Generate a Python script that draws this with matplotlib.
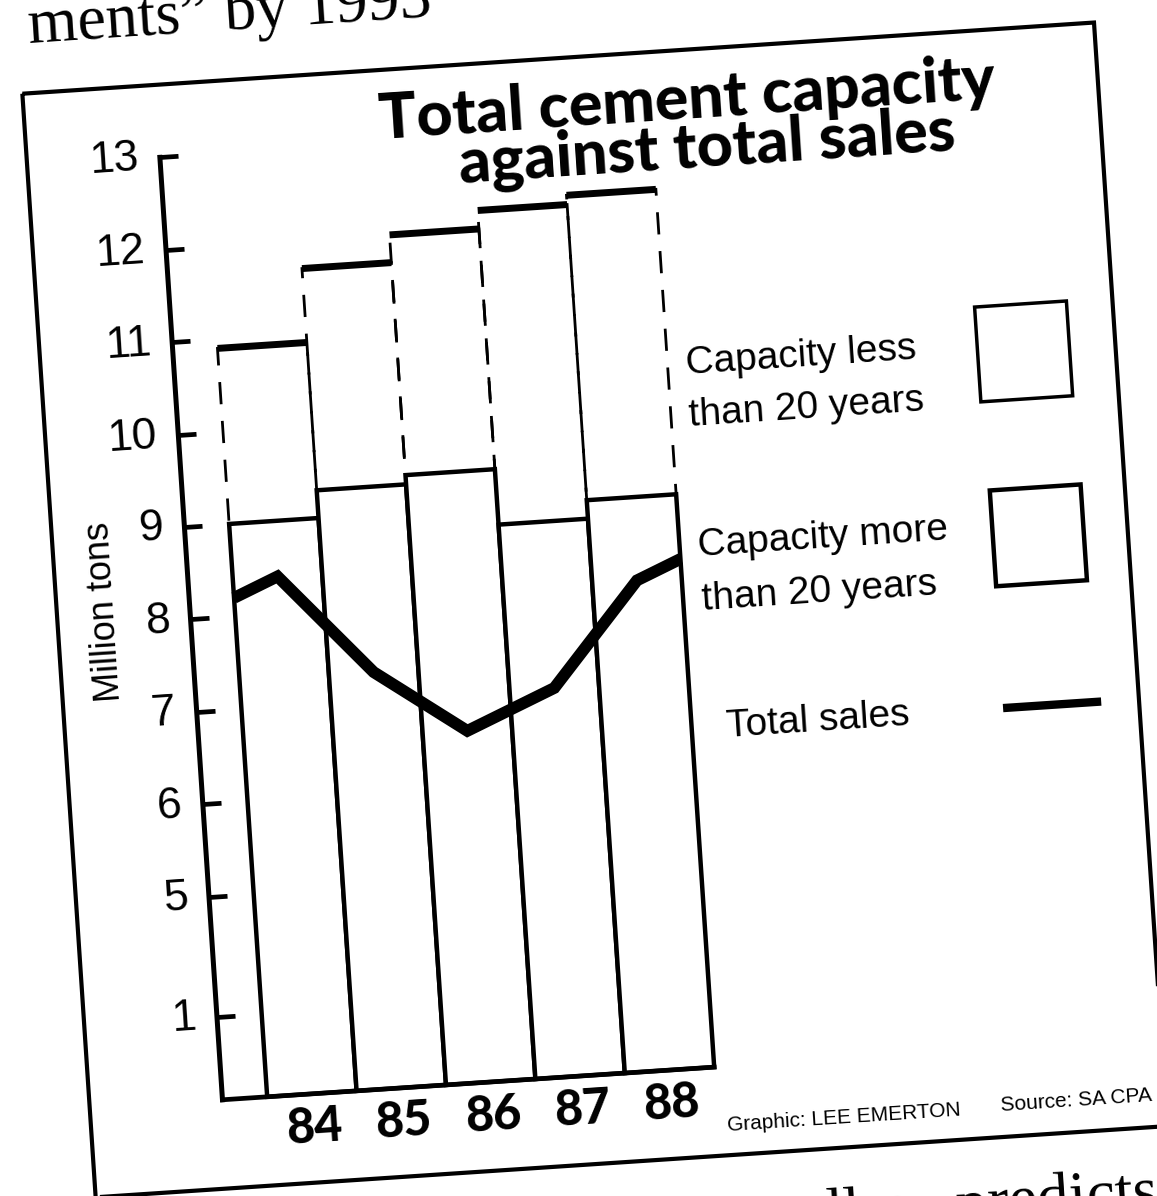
import matplotlib
matplotlib.use("Agg")
import matplotlib.pyplot as plt
from matplotlib.patches import Rectangle
from matplotlib.transforms import Affine2D
from mpl_toolkits.axisartist import floating_axes
from mpl_toolkits.axisartist.grid_finder import FixedLocator, DictFormatter

# Cement capacity split by plant age, against total sales (million tons)
years = [84, 85, 86, 87, 88]
year_labels = ["84", "85", "86", "87", "88"]
capacity_old = [9.0, 9.3, 9.4, 8.8, 9.0]   # capacity more than 20 years
capacity_new = [1.9, 2.4, 2.6, 3.4, 3.3]   # capacity less than 20 years
sales_x = [83.5, 84, 85, 86, 87, 88, 88.5]
sales = [8.2, 8.4, 7.3, 6.6, 7.0, 8.1, 8.3]
ytick_values = [1, 5, 6, 7, 8, 9, 10, 11, 12, 13]

AXIS_FLOOR = 2.8   # bottom of the value axis
BREAK_AT = 3.7     # where the "1" tick sits on the broken scale
TILT = 3.8         # the whole page is printed slightly askew

W, H = 1157, 1196
CX, CY = 578, H - 598

SANS = ["Liberation Sans Narrow", "Liberation Sans", "DejaVu Sans"]
HEAVY = ["Lato", "DejaVu Sans"]
SERIF = ["Liberation Serif", "DejaVu Serif"]

fig = plt.figure(figsize=(W / 100, H / 100), dpi=100)
fig.patch.set_facecolor("white")

# chart units -> display pixels, tilted with the page
chart_tf = (Affine2D().translate(-83, -13).scale(89.6, 92.6)
            .translate(190, H - 130.6).rotate_deg_around(CX, CY, TILT))

ytick_pos = [BREAK_AT if v == 1 else v for v in ytick_values]
helper = floating_axes.GridHelperCurveLinear(
    chart_tf, extremes=(83, 88.5, AXIS_FLOOR, 13),
    grid_locator1=FixedLocator(years),
    tick_formatter1=DictFormatter(dict(zip(years, year_labels))),
    grid_locator2=FixedLocator(ytick_pos),
    tick_formatter2=DictFormatter({p: str(v) for p, v in zip(ytick_pos, ytick_values)}))

corners = chart_tf.transform([(83, AXIS_FLOOR), (88.5, AXIS_FLOOR), (88.5, 13), (83, 13)])
(x0, y0), (x1, y1) = corners.min(axis=0), corners.max(axis=0)
# FloatingAxes pads its limits by 2 %, pad the rect the same way so that
# one data unit of the host stays one pixel
mx, my = (x1 - x0) * 0.01, (y1 - y0) * 0.01
rect = [(x0 - mx) / W, (y0 - my) / H, (x1 - x0 + 2 * mx) / W, (y1 - y0 + 2 * my) / H]
ax = fig.add_axes(rect, axes_class=floating_axes.FloatingAxes, grid_helper=helper)
aux = ax.get_aux_axes(chart_tf)

for side in ("top", "right"):
    ax.axis[side].set_visible(False)

left = ax.axis["left"]
left.line.set_linewidth(3.6)
left.major_ticks.set_ticksize(13)
left.major_ticks.set_markeredgewidth(3.4)
left.major_ticklabels.set(fontsize=32, fontfamily=SANS)
left.major_ticklabels.set_pad(15)

bottom = ax.axis["bottom"]
bottom.line.set_linewidth(3.4)
bottom.major_ticks.set_visible(False)
bottom.major_ticklabels.set(fontsize=35, fontfamily=HEAVY, fontweight="black")
bottom.major_ticklabels.set_pad(9)

# stacked capacity bars: old plant solid, newer plant dashed on top
old_h = [c - AXIS_FLOOR for c in capacity_old]
aux.bar(years, old_h, bottom=AXIS_FLOOR, width=1.0, facecolor="white",
        edgecolor="black", linewidth=3.2)
aux.bar(years, capacity_new, bottom=capacity_old, width=1.0, facecolor="none",
        edgecolor="black", linewidth=2, linestyle=(0, (8, 6)))
totals = [o + n for o, n in zip(capacity_old, capacity_new)]
aux.hlines(totals, [y - 0.5 for y in years], [y + 0.5 for y in years],
           colors="black", linewidth=5)

aux.plot(sales_x, sales, color="black", linewidth=8.5,
         solid_joinstyle="miter", solid_capstyle="butt")

# everything else is laid out in page pixels (y down) and tilted the same way
page_tf = (Affine2D().scale(1, -1).translate(0, H)
           .rotate_deg_around(CX, CY, TILT) + ax.transData)


def page_text(x, y, s, **kw):
    kw.setdefault("rotation", TILT)
    ax.text(x, y, s, transform=page_tf, rotation_mode="anchor",
            clip_on=False, **kw)


ax.add_patch(Rectangle((57, 58), 1074, 1106, transform=page_tf, fill=False,
                       edgecolor="black", linewidth=3, clip_on=False))

page_text(720, 127, "Total cement capacity", ha="center", va="baseline",
          fontsize=45, fontfamily=HEAVY, fontweight="black")
page_text(737, 176, "against total sales", ha="center", va="baseline",
          fontsize=45, fontfamily=HEAVY, fontweight="black")

page_text(105, 580, "Million tons", rotation=90 + TILT, ha="center",
          va="center", fontsize=26, fontfamily=SANS)

# legend
legend_kw = dict(ha="left", va="baseline", fontsize=28, fontfamily=SANS)
page_text(701, 382, "Capacity less", **legend_kw)
page_text(701, 434, "than 20 years", **legend_kw)
page_text(701, 564, "Capacity more", **legend_kw)
page_text(701, 618, "than 20 years", **legend_kw)
page_text(717, 747, "Total sales", **legend_kw)
ax.add_patch(Rectangle((993, 334), 92, 95, transform=page_tf, facecolor="white",
                       edgecolor="black", linewidth=2.5, clip_on=False))
ax.add_patch(Rectangle((996, 518), 91, 96, transform=page_tf, facecolor="white",
                       edgecolor="black", linewidth=3.2, clip_on=False))
ax.plot([999, 1089], [736, 736], transform=page_tf, color="black",
        linewidth=6, clip_on=False)

page_text(692, 1140, "Graphic: LEE EMERTON", ha="left", va="baseline",
          fontsize=15, fontfamily=SANS)
page_text(966, 1138, "Source: SA CPA", ha="left", va="baseline",
          fontsize=15, fontfamily=SANS)

# surrounding newspaper copy, cut by the page edges
page_text(67, 8, "ments\u201d by 1993", ha="left", va="baseline",
          fontsize=46, fontfamily=SERIF)
page_text(785, 1247, "llm", ha="left", va="baseline",
          fontsize=46, fontfamily=SERIF)
page_text(915, 1247, "predicts", ha="left", va="baseline",
          fontsize=46, fontfamily=SERIF)

fig.savefig("out.png", dpi=100, facecolor="white")
